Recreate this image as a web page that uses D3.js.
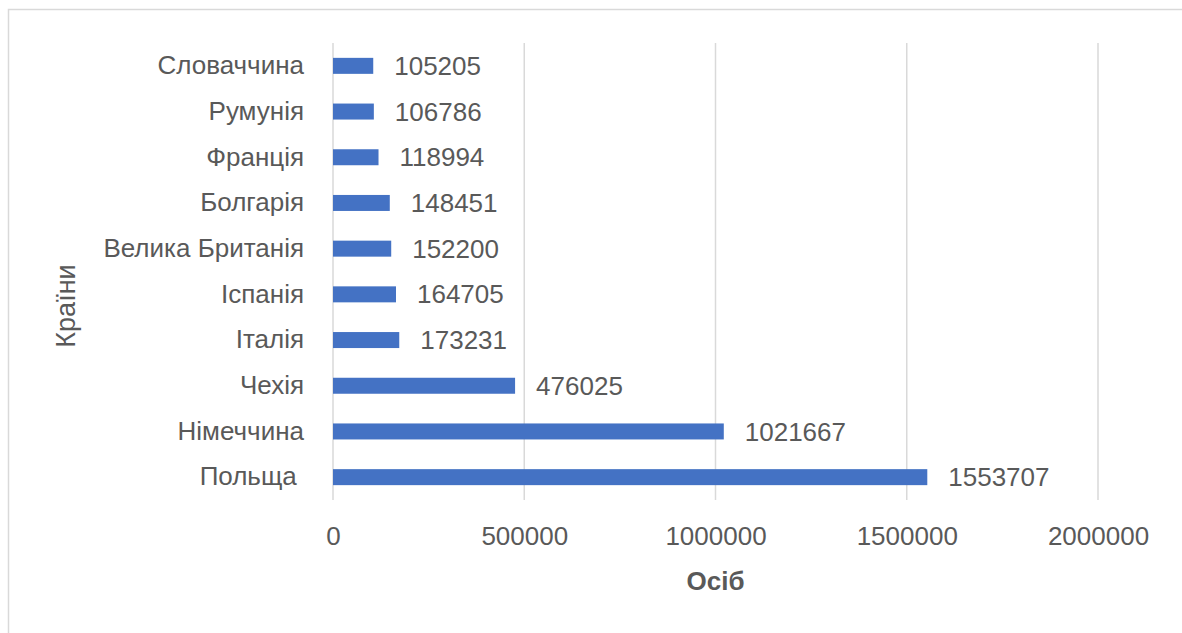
<!DOCTYPE html>
<html>
<head>
<meta charset="utf-8">
<script src="https://cdn.jsdelivr.net/npm/d3@7"></script>
<style>
  body { margin: 0; background: #fff; }
  text { font-family: "Liberation Sans", Arial, sans-serif; fill: #595959; }
</style>
</head>
<body>
<div id="chart"></div>
<script>
// Data (top to bottom as in the picture)
var countries = ["Словаччина", "Румунія", "Франція", "Болгарія", "Велика Британія",
                 "Іспанія", "Італія", "Чехія", "Німеччина", "Польща "];
var people = [105205, 106786, 118994, 148451, 152200, 164705, 173231, 476025, 1021667, 1553707];
var xTicks = [0, 500000, 1000000, 1500000, 2000000];

var svgWidth = 1182;
var svgHeight = 633;

var chartMargin = { top: 43, right: 84, bottom: 133, left: 333 };
var chartWidth = svgWidth - chartMargin.left - chartMargin.right;
var chartHeight = svgHeight - chartMargin.top - chartMargin.bottom;

var svg = d3.select("#chart")
    .append("svg")
    .attr("width", svgWidth)
    .attr("height", svgHeight);

// outer chart border (runs off the right and bottom edges)
svg.append("rect")
    .attr("x", 8.5)
    .attr("y", 9.5)
    .attr("width", 1200)
    .attr("height", 700)
    .attr("fill", "none")
    .attr("stroke", "#d9d9d9")
    .attr("stroke-width", 1.5);

var chartGroup = svg.append("g")
    .attr("transform", `translate(${chartMargin.left}, ${chartMargin.top})`);

var xScale = d3.scaleLinear()
    .domain([0, 2000000])
    .range([0, chartWidth]);

var yScale = d3.scaleBand()
    .domain(countries)
    .range([0, chartHeight])
    .paddingInner(0.65)
    .paddingOuter(0.325);

// gridlines
chartGroup.append("g")
    .selectAll("line")
    .data(xTicks)
    .enter()
    .append("line")
    .attr("x1", d => xScale(d))
    .attr("x2", d => xScale(d))
    .attr("y1", 0)
    .attr("y2", chartHeight)
    .attr("stroke", "#d9d9d9")
    .attr("stroke-width", 1.5);

// bottom axis (labels only)
var bottomAxis = d3.axisBottom(xScale).tickValues(xTicks).tickSize(0).tickPadding(27).tickFormat(d3.format("d"));
var xAxisG = chartGroup.append("g")
    .attr("transform", `translate(0, ${chartHeight})`)
    .call(bottomAxis);
xAxisG.select(".domain").remove();
xAxisG.selectAll("text").attr("font-size", "26px").attr("fill", "#595959")
    .style("font-family", "Liberation Sans, Arial, sans-serif");

// left axis (labels only)
var leftAxis = d3.axisLeft(yScale).tickSize(0).tickPadding(29);
var yAxisG = chartGroup.append("g").call(leftAxis);
yAxisG.select(".domain").remove();
yAxisG.selectAll("text").attr("font-size", "26px").attr("fill", "#595959")
    .style("font-family", "Liberation Sans, Arial, sans-serif")
    .style("white-space", "pre");

// bars
chartGroup.selectAll("rect.bar")
    .data(countries)
    .enter()
    .append("rect")
    .attr("class", "bar")
    .attr("x", xScale(0))
    .attr("y", d => yScale(d))
    .attr("width", (d, i) => xScale(people[i]) - xScale(0))
    .attr("height", yScale.bandwidth())
    .attr("fill", "#4472c4");

// value labels
chartGroup.selectAll("text.val")
    .data(countries)
    .enter()
    .append("text")
    .attr("class", "val")
    .attr("x", (d, i) => xScale(people[i]) + 21)
    .attr("y", d => yScale(d) + yScale.bandwidth() / 2)
    .attr("dy", "0.35em")
    .attr("font-size", "26px")
    .text((d, i) => people[i]);

// axis titles
svg.append("text")
    .attr("x", chartMargin.left + chartWidth / 2)
    .attr("y", 590)
    .attr("text-anchor", "middle")
    .attr("font-size", "26px")
    .attr("font-weight", "bold")
    .text("Осіб");

svg.append("text")
    .attr("transform", "translate(75, 306) rotate(-90)")
    .attr("text-anchor", "middle")
    .attr("font-size", "27px")
    .text("Країни");
</script>
</body>
</html>
